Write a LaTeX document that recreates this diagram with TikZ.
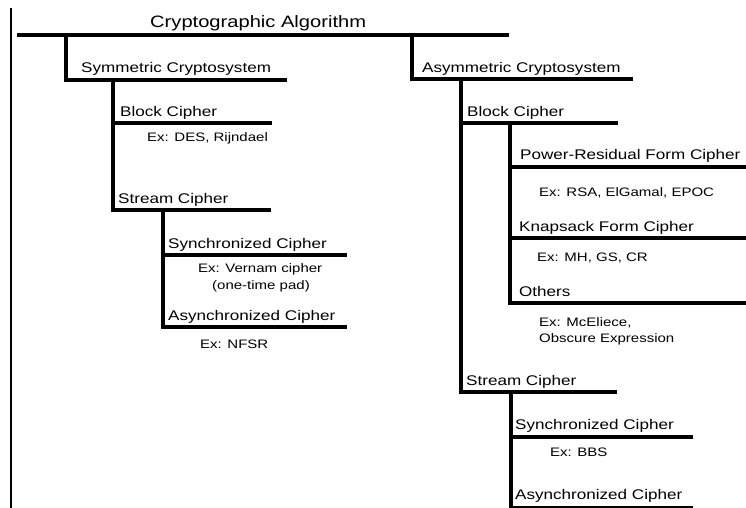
\documentclass[tikz,border=0pt]{standalone}
\usepackage{fontspec}
\setmainfont[FakeStretch=1.22]{Liberation Sans}
\begin{document}
\begin{tikzpicture}[x=1pt,y=-1pt,
  bar/.style={line width=4pt, line join=miter, line cap=rect},
  rule/.style={line width=2pt},
  ttl/.style={anchor=base west, inner sep=0pt, font=\fontsize{16.5}{19}\selectfont},
  lbl/.style={anchor=base west, inner sep=0pt, font=\fontsize{14}{16}\selectfont},
  exlbl/.style={anchor=base west, inner sep=0pt, font=\fontsize{12.3}{15}\selectfont}]
\useasboundingbox (0,0) rectangle (746,507);
\clip (0,0) rectangle (746,507);

% margin rule on the left
\coordinate (ruleT) at (11,8);
\coordinate (ruleB) at (11,510);
\draw[rule] (ruleT) -- (ruleB);

% root
\node[ttl] (root) at (150,27) {Cryptographic Algorithm};
\coordinate (rootL) at (19,35);
\coordinate (rootR) at (507,35);
\draw[bar] (rootL) -- (rootR);

% ---------------- symmetric side ----------------
\node[lbl] (sym) at (81,72) {Symmetric Cryptosystem};
\coordinate (symJ) at (66,35);
\coordinate (symR) at (285,80);
\draw[bar] (symJ) |- (symR);

\node[lbl] (sblk) at (120,116) {Block Cipher};
\coordinate (sblkJ) at (113,80);
\coordinate (sblkR) at (270,123);
\draw[bar] (sblkJ) |- (sblkR);
\node[exlbl] (sblkEx) at (147,141) {Ex: DES, Rijndael};

\node[lbl] (sstr) at (118,203) {Stream Cipher};
\coordinate (sstrJ) at (113,123);
\coordinate (sstrR) at (269,210);
\draw[bar] (sstrJ) |- (sstrR);

\node[lbl] (ssyn) at (168,248) {Synchronized Cipher};
\coordinate (ssynJ) at (163,210);
\coordinate (ssynR) at (345,255);
\draw[bar] (ssynJ) |- (ssynR);
\node[exlbl] (ssynEx) at (198,272) {Ex: Vernam cipher};
\node[exlbl] (ssynEx2) at (212,289) {(one-time pad)};

\node[lbl] (sasy) at (168,320) {Asynchronized Cipher};
\coordinate (sasyJ) at (163,255);
\coordinate (sasyR) at (345,327);
\draw[bar] (sasyJ) |- (sasyR);
\node[exlbl] (sasyEx) at (200,348) {Ex: NFSR};

% ---------------- asymmetric side ----------------
\node[lbl] (asym) at (422,72) {Asymmetric Cryptosystem};
\coordinate (asymJ) at (412,35);
\coordinate (asymR) at (631,79);
\draw[bar] (asymJ) |- (asymR);

\node[lbl] (ablk) at (467,116) {Block Cipher};
\coordinate (ablkJ) at (461,79);
\coordinate (ablkR) at (616,123);
\draw[bar] (ablkJ) |- (ablkR);

\node[lbl] (pow) at (520,159) {Power-Residual Form Cipher};
\coordinate (powJ) at (510,123);
\coordinate (powR) at (760,167);
\draw[bar] (powJ) |- (powR);
\node[exlbl] (powEx) at (539,196) {Ex: RSA, ElGamal, EPOC};

\node[lbl] (knap) at (519,231) {Knapsack Form Cipher};
\coordinate (knapJ) at (510,167);
\coordinate (knapR) at (760,238);
\draw[bar] (knapJ) |- (knapR);
\node[exlbl] (knapEx) at (537,261) {Ex: MH, GS, CR};

\node[lbl] (oth) at (519,296) {Others};
\coordinate (othJ) at (510,238);
\coordinate (othR) at (760,303);
\draw[bar] (othJ) |- (othR);
\node[exlbl] (othEx) at (539,326) {Ex: McEliece,};
\node[exlbl] (othEx2) at (539,342) {Obscure Expression};

\node[lbl] (astr) at (466,385) {Stream Cipher};
\coordinate (astrJ) at (461,123);
\coordinate (astrR) at (615,392);
\draw[bar] (astrJ) |- (astrR);

\node[lbl] (asyn) at (515,429) {Synchronized Cipher};
\coordinate (asynJ) at (511,392);
\coordinate (asynR) at (691,437);
\draw[bar] (asynJ) |- (asynR);
\node[exlbl] (asynEx) at (550,456) {Ex: BBS};

\node[lbl] (aasy) at (515,499) {Asynchronized Cipher};
\coordinate (aasyJ) at (511,437);
\coordinate (aasyR) at (691,508);
\draw[bar] (aasyJ) |- (aasyR);
\end{tikzpicture}
\end{document}
